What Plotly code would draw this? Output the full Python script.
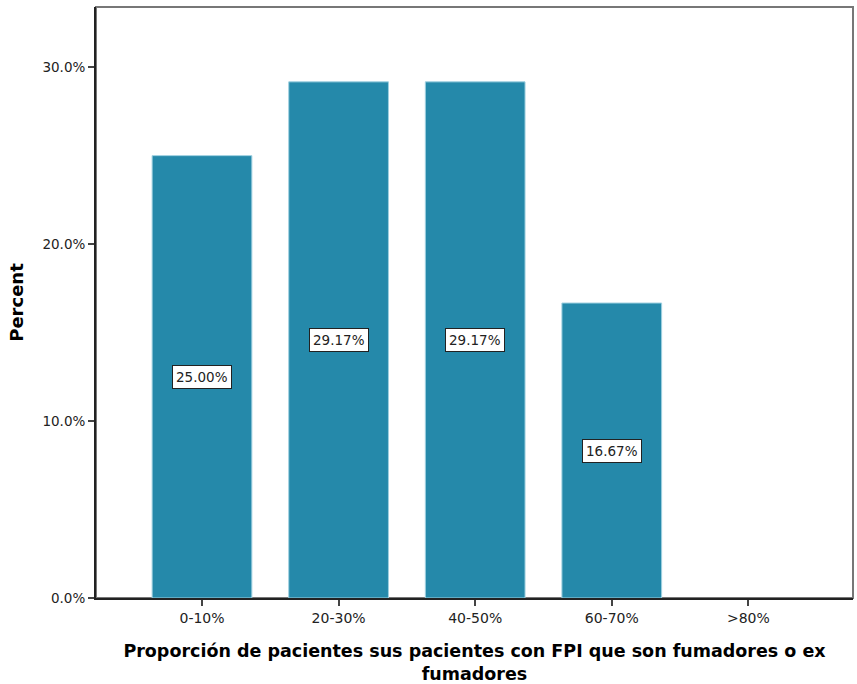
import plotly.graph_objects as go

categories = ["0-10%", "20-30%", "40-50%", "60-70%", ">80%"]
percents = [25.00, 29.17, 29.17, 16.67, 0.0]
y_ticks = [0, 10, 20, 30]
y_tick_labels = ["0.0%", "10.0%", "20.0%", "30.0%"]

bar_color = "#2589aa"
tick_font = "DejaVu Sans"
title_font = "DejaVu Sans"

fig = go.Figure()
fig.add_trace(go.Bar(
    x=categories, y=percents, width=0.73,
    marker=dict(color=bar_color,
                line=dict(color="#9fd0e0", width=[1 if v > 0 else 0 for v in percents])),
    hoverinfo="skip",
))

for c, v in zip(categories, percents):
    if v > 0:
        fig.add_annotation(
            x=c, y=v / 2, text=f"{v:.2f}%", showarrow=False,
            bgcolor="white", bordercolor="#222222", borderwidth=1, borderpad=3,
            font=dict(family=tick_font, size=13.5, color="#222222"),
        )

# frame
fig.add_shape(type="rect", xref="paper", yref="paper", x0=0, x1=1, y0=0, y1=1,
              line=dict(color="#777777", width=2), layer="below")

fig.update_layout(
    width=857, height=684,
    margin=dict(l=96, r=4, t=7, b=86),
    paper_bgcolor="white", plot_bgcolor="white",
    showlegend=False, bargap=0.27,
    font=dict(family=tick_font, size=12, color="#222222"),
)
fig.update_xaxes(
    range=[-0.776, 4.766], showgrid=False, zeroline=False,
    showline=True, linecolor="#222222", linewidth=2,
    ticks="outside", ticklen=6, tickwidth=2, tickcolor="#444444",
    tickfont=dict(family=tick_font, size=14, color="#222222"),
    title=dict(text="<b>Proporción de pacientes sus pacientes con FPI que son fumadores o ex<br>fumadores</b>",
               font=dict(family=title_font, size=17.5, color="black"), standoff=20),
)
fig.update_yaxes(
    range=[0, 33.4], showgrid=False, zeroline=False,
    showline=True, linecolor="#222222", linewidth=2,
    tickvals=y_ticks, ticktext=y_tick_labels,
    ticks="outside", ticklen=6, tickwidth=2, tickcolor="#444444",
    tickfont=dict(family=tick_font, size=13.5, color="#222222"),
    title=dict(text="<b>Percent</b>", font=dict(family=title_font, size=18, color="black"), standoff=14),
)

fig.write_html("out.html", config={"displayModeBar": False},
               post_script="document.body.style.margin='0';")
